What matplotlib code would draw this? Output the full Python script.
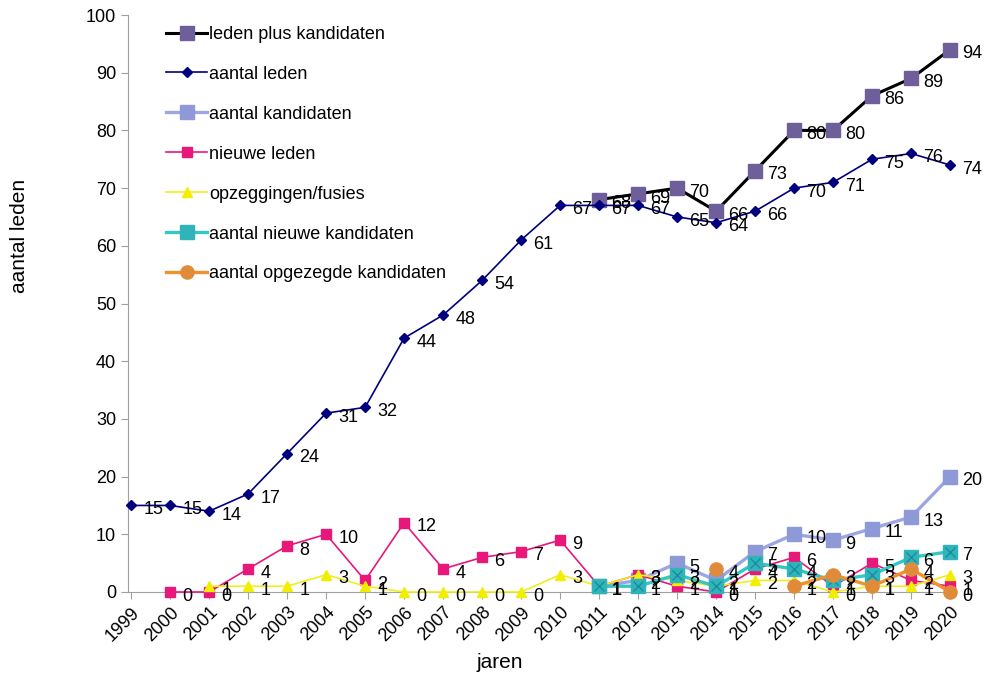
import numpy as np
import matplotlib.pyplot as plt

plt.rcParams['font.family'] = ['Liberation Sans', 'DejaVu Sans']

# jaren
years = list(range(1999, 2021))
nan = np.nan

# reeksen
leden_plus_kandidaten = [nan] * 12 + [68, 69, 70, 66, 73, 80, 80, 86, 89, 94]
aantal_leden = [15, 15, 14, 17, 24, 31, 32, 44, 48, 54, 61, 67, 67, 67, 65, 64, 66, 70, 71, 75, 76, 74]
aantal_kandidaten = [nan] * 12 + [1, 2, 5, 2, 7, 10, 9, 11, 13, 20]
nieuwe_leden = [nan, 0, 0, 4, 8, 10, 2, 12, 4, 6, 7, 9, 1, 3, 1, 0, 4, 6, 1, 5, 2, 1]
opzeggingen = [nan, nan, 1, 1, 1, 3, 1, 0, 0, 0, 0, 3, 1, 3, 2, 1, 2, 2, 0, 1, 1, 3]
nieuwe_kandidaten = [nan] * 12 + [1, 1, 3, 1, 5, 4, 2, 3, 6, 7]
opgezegde_kandidaten = [nan] * 15 + [4, nan, 1, 3, 1, 4, 0]

fig = plt.figure(figsize=(9.89, 6.75), dpi=100)
ax = fig.add_axes([128 / 989, 83 / 675, 826 / 989, 577 / 675])

# (data, label, lijnkleur, lijndikte, marker, markerkleur, markergrootte)
series = [
    (leden_plus_kandidaten, 'leden plus kandidaten', 'black', 2.2, 's', '#6E5F9B', 10),
    (aantal_leden, 'aantal leden', '#00007F', 1.2, 'D', '#00007F', 5),
    (aantal_kandidaten, 'aantal kandidaten', '#9EA6E2', 2.4, 's', '#8E9AD8', 9.5),
    (nieuwe_leden, 'nieuwe leden', '#E8187A', 1.2, 's', '#E8187A', 7),
    (opzeggingen, 'opzeggingen/fusies', '#F2EE1C', 1.2, '^', '#F2EE00', 7),
    (nieuwe_kandidaten, 'aantal nieuwe kandidaten', '#35C6C6', 2.4, 's', '#2FB4BA', 9.5),
    (opgezegde_kandidaten, 'aantal opgezegde kandidaten', '#EE9230', 2.4, 'o', '#E08B3A', 9.5),
]

for i, (vals, label, lc, lw, mk, mc, ms) in enumerate(series):
    ax.plot(years, vals, color=lc, linewidth=lw, marker=mk, markersize=ms,
            markerfacecolor=mc, markeredgecolor=mc, label=label,
            clip_on=False, zorder=3 + i * 0.1)
    if label == 'aantal nieuwe kandidaten':
        # kruisje in de vierkante markers
        ax.plot(years, vals, linestyle='none', marker='x', markersize=7,
                markeredgecolor='#1B8C9E', markeredgewidth=1.0,
                clip_on=False, zorder=3 + i * 0.1 + 0.05)

# waardelabels rechts van de punten
for vals, *_ in series:
    for x, v in zip(years, vals):
        if not np.isnan(v):
            ax.annotate(f"{int(v)}", (x, v), textcoords='offset points',
                        xytext=(9, -3), ha='left', va='center', fontsize=13,
                        annotation_clip=False, zorder=10)

ax.set_xlim(1998.92, 2020.1)
ax.set_ylim(0, 100)
ax.set_yticks(range(0, 101, 10))
ax.set_xticks(years)
ax.set_xticklabels([str(y) for y in years], rotation=45, ha='right',
                   rotation_mode='anchor', fontsize=13)
ax.tick_params(axis='y', labelsize=13, length=5, color='#A0A0A0')
ax.tick_params(axis='x', length=5, color='#A0A0A0')

for side in ['top', 'right']:
    ax.spines[side].set_visible(False)
ax.spines['left'].set_color('#A0A0A0')
ax.spines['bottom'].set_color('#A0A0A0')

fig.text(20 / 989, 1 - 236 / 675, 'aantal leden', rotation=90, fontsize=15,
         ha='center', va='center')
fig.text(500 / 989, 1 - 662 / 675, 'jaren', fontsize=15, ha='center', va='center')

leg = ax.legend(loc='upper left', bbox_to_anchor=(146 / 989, 1 - 6 / 675),
                bbox_transform=fig.transFigure, frameon=True, facecolor='white',
                edgecolor='none', framealpha=1, fontsize=13, labelspacing=1.27,
                handlelength=2.3, handletextpad=0.1, borderpad=0.6)
leg.set_zorder(8)

fig.savefig('out.png', dpi=100)
